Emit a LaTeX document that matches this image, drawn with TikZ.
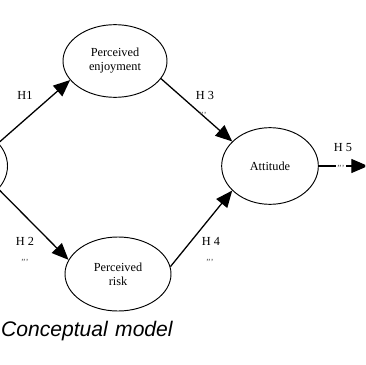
\documentclass[tikz,border=0pt]{standalone}
\usepackage{fontspec}
\setmainfont{Liberation Serif}
\setsansfont{Liberation Sans}
\usetikzlibrary{arrows.meta,shapes.geometric}

\begin{document}
\begin{tikzpicture}[x=0.03cm,y=-0.03cm,
    construct/.style={draw,ellipse,line width=0.8pt,inner sep=0pt,align=center,
      font=\fontsize{10.5}{12}\selectfont},
    hpath/.style={draw,line width=1.1pt,-{Triangle[length=0.5cm,width=0.42cm]}},
    hyp/.style={font=\fontsize{10.5}{12}\selectfont},
    sig/.style={font=\fontsize{8}{8}\selectfont,gray!70!black}]
  \clip (0,0) rectangle (365,365);

  %% ── constructs ──
  \node[construct,minimum width=2.85cm,minimum height=2.3cm] (usef) at (-40,166) {};
  \node[construct,minimum width=3.12cm,minimum height=2.18cm] (enjoy) at (115,61)
    {Perceived\\enjoyment};
  \node[construct,minimum width=3.18cm,minimum height=2.22cm] (risk) at (118,274)
    {Perceived\\risk};
  \node[construct,minimum width=2.9cm,minimum height=2.3cm] (att) at (270,166)
    {Attitude};
  \coordinate (out) at (368,166);

  %% ── hypotheses ──
  \path[hpath] (usef.31) -- (enjoy.203);
  \path[hpath] (usef.-31) -- (risk.164);
  \path[hpath] (enjoy.-21) -- (att.147);
  \path[hpath] (risk.8) -- (att.213);
  \path[hpath] (att.east) -- (out);

  %% ── labels ──
  \node[hyp] (h1) at (25,95) {H1};
  \node[hyp] (h2) at (25,241) {H 2};
  \node[sig] (s2) at (25,262) {'''};
  \node[hyp] (h3) at (205,95) {H 3};
  \node[sig] (s3) at (203,115) {'''};
  \node[hyp] (h4) at (211,241) {H 4};
  \node[sig] (s4) at (210,262) {'''};
  \node[hyp] (h5) at (343,148) {H 5};
  \node[sig,fill=white,inner sep=1pt] (s5) at (341,168) {'''};

  \node[font=\sffamily\itshape\fontsize{18}{18}\selectfont,anchor=base west]
    (cap) at (-3,336) {Conceptual\hspace{0.35em}model};
\end{tikzpicture}
\end{document}
